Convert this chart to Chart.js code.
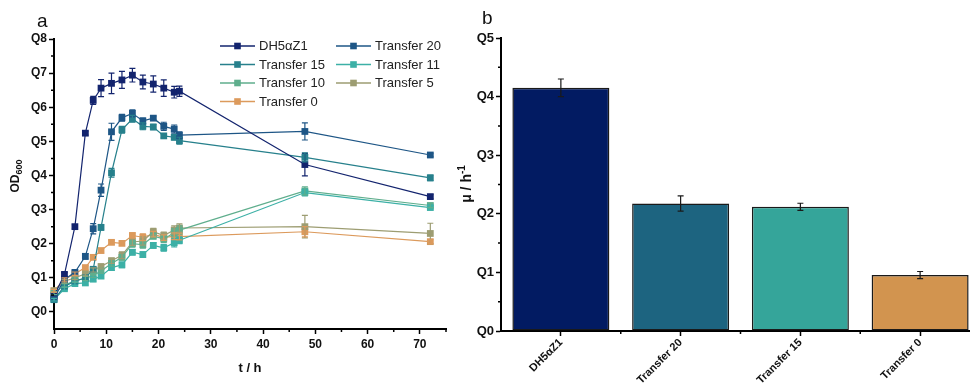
<!DOCTYPE html>
<html>
<head>
<meta charset="utf-8">
<script src="https://cdn.jsdelivr.net/npm/chart.js@4"></script>
<style>
  html, body { margin: 0; padding: 0; background: #fff; overflow: hidden; }
  #wrap { position: relative; width: 970px; height: 392px; overflow: hidden; }
  #growth { position: absolute; left: 0; top: 0; }
  #rate { position: absolute; left: 450px; top: 0; }
  .panel { position: absolute; font: 19px 'Liberation Sans', Arial, sans-serif; line-height: 19px; color: #111; }
</style>
</head>
<body>
<div id="wrap">
  <canvas id="growth" width="460" height="392"></canvas>
  <canvas id="rate" width="530" height="392"></canvas>
  <div class="panel" style="left:37px;top:11px">a</div>
  <div class="panel" style="left:482px;top:8px">b</div>
</div>
<script>
const FONT = "'Liberation Sans', Arial, sans-serif";

// growth curves (OD600 vs time)
const times = [0, 2, 4, 6, 7.5, 9, 11, 13, 15, 17, 19, 21, 23, 24, 48, 72];
const strains = ['DH5αZ1', 'Transfer 20', 'Transfer 15', 'Transfer 11', 'Transfer 10', 'Transfer 5', 'Transfer 0'];
const strainColors = ['#13246e', '#1e5686', '#27808c', '#3cb0a6', '#5fae8d', '#9d9d72', '#dc9a5c'];

const dh5 = [0.047, 0.110, 0.250, 0.524, 0.620, 0.656, 0.670, 0.680, 0.694, 0.674, 0.668, 0.656, 0.644, 0.647, 0.432, 0.338];
const tr20 = [0.040, 0.095, 0.116, 0.163, 0.244, 0.357, 0.528, 0.569, 0.582, 0.560, 0.568, 0.544, 0.536, 0.518, 0.529, 0.460];
const tr15 = [0.036, 0.075, 0.090, 0.100, 0.125, 0.248, 0.408, 0.534, 0.566, 0.544, 0.542, 0.516, 0.512, 0.502, 0.453, 0.393];
const tr11 = [0.036, 0.068, 0.083, 0.085, 0.096, 0.105, 0.130, 0.138, 0.175, 0.168, 0.195, 0.188, 0.203, 0.210, 0.350, 0.306];
const tr10 = [0.055, 0.078, 0.092, 0.098, 0.107, 0.120, 0.142, 0.160, 0.200, 0.197, 0.222, 0.214, 0.232, 0.240, 0.355, 0.312];
const tr5 = [0.062, 0.090, 0.100, 0.112, 0.123, 0.133, 0.150, 0.166, 0.205, 0.208, 0.235, 0.224, 0.240, 0.246, 0.250, 0.230];
const tr0 = [0.062, 0.095, 0.112, 0.130, 0.160, 0.180, 0.204, 0.201, 0.224, 0.219, 0.228, 0.218, 0.222, 0.221, 0.235, 0.206];

const dh5Err = [0.004, 0.005, 0.006, 0.006, 0.012, 0.025, 0.030, 0.025, 0.020, 0.020, 0.024, 0.024, 0.017, 0.015, 0.033, 0.006];
const tr20Err = [0.004, 0.005, 0.006, 0.008, 0.015, 0.018, 0.025, 0.010, 0.010, 0.008, 0.006, 0.012, 0.012, 0.010, 0.025, 0.005];
const tr15Err = [0.004, 0.005, 0.005, 0.006, 0.006, 0.008, 0.013, 0.010, 0.010, 0.010, 0.008, 0.006, 0.008, 0.010, 0.013, 0.008];
const tr11Err = [0.004, 0.005, 0.005, 0.006, 0.006, 0.007, 0.008, 0.008, 0.008, 0.008, 0.008, 0.010, 0.012, 0.010, 0.010, 0.006];
const tr10Err = [0.004, 0.005, 0.005, 0.006, 0.006, 0.007, 0.008, 0.008, 0.010, 0.010, 0.008, 0.010, 0.012, 0.012, 0.012, 0.006];
const tr5Err = [0.004, 0.005, 0.005, 0.006, 0.006, 0.007, 0.008, 0.010, 0.010, 0.012, 0.010, 0.010, 0.012, 0.012, 0.033, 0.030];
const tr0Err = [0.004, 0.005, 0.005, 0.006, 0.006, 0.006, 0.006, 0.006, 0.008, 0.010, 0.008, 0.008, 0.010, 0.010, 0.015, 0.006];

const growthTicks = [0, 0.1, 0.2, 0.3, 0.4, 0.5, 0.6, 0.7, 0.8];
const growthTickLabels = ['Q0', 'Q1', 'Q2', 'Q3', 'Q4', 'Q5', 'Q6', 'Q7', 'Q8'];
const growthMinorY = [0.05, 0.15, 0.25, 0.35, 0.45, 0.55, 0.65, 0.75];
const timeTicks = [0, 10, 20, 30, 40, 50, 60, 70];
const timeMinor = [5, 15, 25, 35, 45, 55, 65, 75];

// specific growth rate
const rateLabels = ['DH5αZ1', 'Transfer 20', 'Transfer 15', 'Transfer 0'];
const rateValues = [0.415, 0.2175, 0.212, 0.0955];
const rateErr = [0.015, 0.013, 0.006, 0.006];
const rateColors = ['#021b62', '#1d6480', '#35a59a', '#d2944f'];
const rateTicks = [0, 0.1, 0.2, 0.3, 0.4, 0.5];
const rateTickLabels = ['Q0', 'Q1', 'Q2', 'Q3', 'Q4', 'Q5'];
const rateMinorY = [0.05, 0.15, 0.25, 0.35, 0.45];
const rateMinorX = [0.5, 1.5, 2.5];

const odSeries = [dh5, tr20, tr15, tr11, tr10, tr5, tr0];
const odErrors = [dh5Err, tr20Err, tr15Err, tr11Err, tr10Err, tr5Err, tr0Err];

// vertical error bars with caps
const errorBars = {
  id: 'errorBars',
  afterDatasetsDraw(chart, args, opts) {
    const { ctx } = chart;
    const y = chart.scales.y;
    chart.data.datasets.forEach((ds, i) => {
      if (!ds.errors) return;
      const meta = chart.getDatasetMeta(i);
      ctx.save();
      ctx.strokeStyle = opts.color || ds.borderColor;
      ctx.lineWidth = opts.width || 1.2;
      meta.data.forEach((el, j) => {
        const d = ds.data[j];
        const v = typeof d === 'object' ? d.y : d;
        const e = ds.errors[j];
        const top = y.getPixelForValue(v + e);
        const bot = y.getPixelForValue(v - e);
        const c = opts.cap || 3;
        ctx.beginPath();
        ctx.moveTo(el.x, top); ctx.lineTo(el.x, bot);
        ctx.moveTo(el.x - c, top); ctx.lineTo(el.x + c, top);
        ctx.moveTo(el.x - c, bot); ctx.lineTo(el.x + c, bot);
        ctx.stroke();
      });
      ctx.restore();
    });
  }
};

// short ticks between the labelled ones
const minorTicks = {
  id: 'minorTicks',
  afterDraw(chart, args, opts) {
    const { ctx } = chart;
    ctx.save();
    ctx.strokeStyle = '#000';
    ctx.lineWidth = 1.5;
    const len = opts.length || 3;
    const x = chart.scales.x, y = chart.scales.y;
    ctx.beginPath();
    (opts.x || []).forEach(v => {
      const px = x.getPixelForValue(v);
      ctx.moveTo(px, x.top); ctx.lineTo(px, x.top + len);
    });
    (opts.y || []).forEach(v => {
      const py = y.getPixelForValue(v);
      ctx.moveTo(y.right, py); ctx.lineTo(y.right - len, py);
    });
    ctx.stroke();
    ctx.restore();
  }
};

// rotated axis caption made of parts (for sub/superscripts)
function drawCaption(ctx, cx, cy, parts) {
  ctx.save();
  ctx.translate(cx, cy);
  ctx.rotate(-Math.PI / 2);
  ctx.fillStyle = '#111';
  ctx.textBaseline = 'middle';
  ctx.textAlign = 'left';
  let total = 0;
  parts.forEach(p => {
    ctx.font = 'bold ' + p.size + 'px ' + FONT;
    p.w = ctx.measureText(p.text).width;
    total += p.w;
  });
  let x = -total / 2;
  parts.forEach(p => {
    ctx.font = 'bold ' + p.size + 'px ' + FONT;
    ctx.fillText(p.text, x, p.dy || 0);
    x += p.w;
  });
  ctx.restore();
}

const captions = {
  id: 'captions',
  afterDraw(chart, args, opts) {
    drawCaption(chart.ctx, opts.x, opts.y, opts.parts);
  }
};

// two-column legend in the top right of the growth panel
const growthLegend = {
  id: 'growthLegend',
  afterDraw(chart) {
    const { ctx } = chart;
    const cols = [220, 336];
    const rows = [46, 64.5, 83, 101.5];
    ctx.save();
    ctx.font = '13px ' + FONT;
    ctx.textBaseline = 'middle';
    chart.data.datasets.forEach((ds, i) => {
      const lx = cols[i % 2];
      const ly = rows[Math.floor(i / 2)];
      ctx.strokeStyle = ds.borderColor;
      ctx.lineWidth = 1.3;
      ctx.beginPath();
      ctx.moveTo(lx, ly); ctx.lineTo(lx + 35, ly);
      ctx.stroke();
      ctx.fillStyle = ds.borderColor;
      ctx.fillRect(lx + 17.5 - 3.3, ly - 3.3, 6.6, 6.6);
      ctx.fillStyle = '#222';
      ctx.fillText(ds.label, lx + 39, ly + 0.5);
    });
    ctx.restore();
  }
};

const tickFont = { family: FONT, size: 12, weight: 'bold' };

new Chart(document.getElementById('growth'), {
  type: 'line',
  data: {
    datasets: strains.map((name, i) => ({
      label: name,
      data: times.map((t, j) => ({ x: t, y: odSeries[i][j] })),
      errors: odErrors[i],
      borderColor: strainColors[i],
      backgroundColor: strainColors[i],
      borderWidth: 1.2,
      pointStyle: 'rect',
      pointRadius: 4.8,
      pointBorderWidth: 0,
      tension: 0,
      clip: false
    }))
  },
  options: {
    responsive: false,
    animation: false,
    layout: { padding: { top: 39, right: 14, left: 0, bottom: 0 } },
    plugins: {
      legend: { display: false },
      tooltip: { enabled: false },
      errorBars: { cap: 3, width: 1.2 },
      minorTicks: { x: timeMinor, y: growthMinorY, length: 3 },
      captions: { x: 16, y: 176, parts: [{ text: 'OD', size: 12 }, { text: '600', size: 9, dy: 4 }] }
    },
    scales: {
      x: {
        type: 'linear',
        min: 0,
        max: 75,
        afterBuildTicks: s => { s.ticks = timeTicks.map(v => ({ value: v })); },
        afterFit: s => { s.height = 63; },
        grid: { drawOnChartArea: false, tickLength: 5, tickColor: '#000', tickWidth: 1.5 },
        border: { color: '#000', width: 2 },
        ticks: { color: '#111', font: tickFont, padding: 3, maxRotation: 0 },
        title: { display: true, text: 't / h', color: '#111', font: { family: FONT, size: 13, weight: 'bold' }, padding: { top: 0, bottom: 16 } }
      },
      y: {
        min: -0.05,
        max: 0.8,
        afterBuildTicks: s => { s.ticks = growthTicks.map(v => ({ value: v })); },
        afterFit: s => { s.width = 54; },
        grid: { drawOnChartArea: false, tickLength: 5, tickColor: '#000', tickWidth: 1.5 },
        border: { color: '#000', width: 2 },
        ticks: { color: '#111', font: tickFont, padding: 2, callback: (v, i) => growthTickLabels[i] }
      }
    }
  },
  plugins: [errorBars, minorTicks, captions, growthLegend]
});

new Chart(document.getElementById('rate'), {
  type: 'bar',
  data: {
    labels: rateLabels,
    datasets: [{
      data: rateValues,
      errors: rateErr,
      backgroundColor: rateColors,
      borderColor: '#1a1a1a',
      borderWidth: 1.5,
      borderSkipped: false,
      barPercentage: 0.81,
      categoryPercentage: 1
    }]
  },
  options: {
    responsive: false,
    animation: false,
    layout: { padding: { top: 38, right: 0, left: 0, bottom: 0 } },
    plugins: {
      legend: { display: false },
      tooltip: { enabled: false },
      errorBars: { color: '#1a1a1a', cap: 3, width: 1.2 },
      minorTicks: { x: rateMinorX, y: rateMinorY, length: 3 },
      captions: { x: 17, y: 184, parts: [{ text: 'μ / h', size: 14 }, { text: '-1', size: 10, dy: -5 }] }
    },
    scales: {
      x: {
        afterFit: s => { s.height = 61; },
        grid: { offset: false, drawOnChartArea: false, tickLength: 5, tickColor: '#000', tickWidth: 1.5 },
        border: { color: '#000', width: 2 },
        ticks: { color: '#111', font: { family: FONT, size: 11, weight: 'bold' }, minRotation: 45, maxRotation: 45, padding: 0 }
      },
      y: {
        min: 0,
        max: 0.5,
        afterBuildTicks: s => { s.ticks = rateTicks.map(v => ({ value: v })); },
        afterFit: s => { s.width = 51; },
        grid: { drawOnChartArea: false, tickLength: 5, tickColor: '#000', tickWidth: 1.5 },
        border: { color: '#000', width: 2 },
        ticks: { color: '#111', font: { family: FONT, size: 13, weight: 'bold' }, padding: 2, callback: (v, i) => rateTickLabels[i] }
      }
    }
  },
  plugins: [errorBars, minorTicks, captions]
});
</script>
</body>
</html>
